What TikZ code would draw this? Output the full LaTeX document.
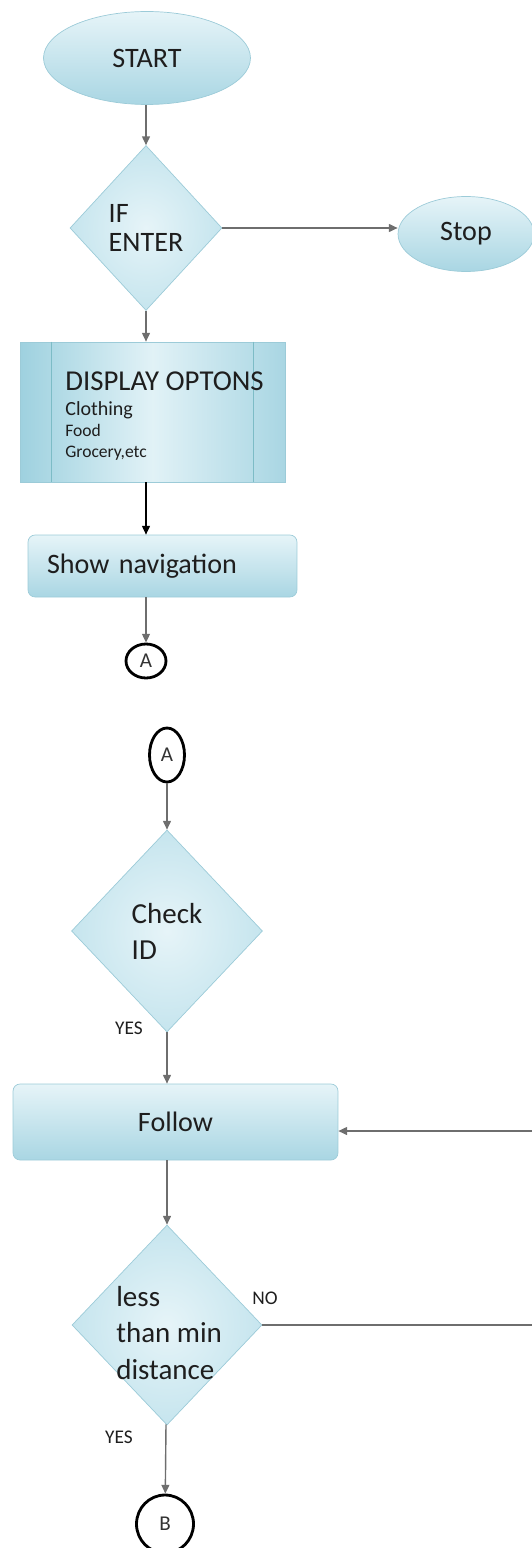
\documentclass[tikz,border=0pt]{standalone}
\usepackage{fontspec}
\setmainfont{Carlito}
\usetikzlibrary{shapes.geometric,arrows.meta,calc}
\definecolor{edgeblue}{HTML}{9CCBD8}
\definecolor{skylight}{HTML}{E6F4F8}
\definecolor{skydark}{HTML}{A9D6E3}
\definecolor{skymid}{HTML}{C6E5EE}
\definecolor{sideblue}{HTML}{9ED1DF}
\definecolor{arrowgray}{HTML}{6E6E6E}
\definecolor{inkgray}{HTML}{1E1E1E}

\begin{document}
\begin{tikzpicture}[x=0.02cm,y=-0.02cm,
  every node/.style={text=inkgray},
  terminal/.style={draw=edgeblue, ellipse, top color=skylight, bottom color=skydark,
    font=\fontsize{16}{19}\selectfont},
  decision/.style={draw=edgeblue, diamond, inner sep=0pt, inner color=skylight,
    outer color=skymid, align=left, font=\fontsize{16}{17}\selectfont},
  procbox/.style={draw=edgeblue, rectangle, left color=sideblue, right color=skydark,
    middle color=skylight!85!skymid},
  roundbox/.style={draw=edgeblue, rectangle, rounded corners=4pt, top color=skylight,
    bottom color=skydark, font=\fontsize{16}{19}\selectfont},
  onpage/.style={draw=black, line width=1.6pt, ellipse, inner sep=0pt, text=black!80,
    font=\fontsize{12}{14}\selectfont},
  answer/.style={inner sep=0pt, font=\fontsize{11}{13}\selectfont},
  flow/.style={draw=arrowgray, line width=0.8pt, -{Triangle[length=5pt,width=4.5pt]}}]
\useasboundingbox (0,0) rectangle (531,1548);

\node[terminal, minimum width=4.14cm, minimum height=1.86cm] (start) at (147,58) {START};
\node[decision, minimum width=3.04cm, minimum height=3.3cm] (ifenter) at (146,228) {IF\\ENTER};
\node[terminal, minimum width=2.72cm, minimum height=1.5cm] (stop) at (466,234) {Stop};
\node[procbox, minimum width=5.3cm, minimum height=2.8cm] (display) at (152.5,412) {};
\draw[edgeblue!80!teal] ($(display.north west)+(32,0)$) -- ($(display.south west)+(32,0)$);
\draw[edgeblue!80!teal] ($(display.north east)-(32,0)$) -- ($(display.south east)-(32,0)$);
\node[anchor=west, align=left, inner sep=0pt] (displaytext) at (65,416)
  {\fontsize{16.4}{18}\selectfont DISPLAY OPTONS\\[2pt]
   \fontsize{11.4}{12.5}\selectfont Clothing\\Food\\Grocery,etc};
\node[roundbox, minimum height=1.24cm, text width=4.62cm, inner xsep=0.38cm, align=left]
  (shownav) at (162.5,566) {Show navigation};
\node[onpage, minimum width=0.8cm, minimum height=0.68cm] (a1) at (146,661) {A};

\node[onpage, minimum width=0.7cm, minimum height=1.08cm] (a2) at (167,755) {A};
\node[decision, minimum width=3.82cm, minimum height=4.04cm,
  font=\fontsize{16.5}{20.5}\selectfont] (check) at (167,931) {Check\\ID};
\node[answer] (yes1) at (129,1028) {YES};
\node[roundbox, minimum width=6.5cm, minimum height=1.52cm] (follow) at (175.5,1122) {Follow};
\node[decision, minimum width=3.8cm, minimum height=4cm] (near) at (167,1325) {};
\node[anchor=west, align=left, inner sep=0pt, font=\fontsize{16.5}{20.7}\selectfont]
  (neartext) at (116,1333) {less\\than min\\distance};
\node[answer] (no) at (265,1298) {NO};
\node[answer] (yes2) at (119,1437) {YES};
\node[onpage, minimum width=1.14cm, minimum height=1.16cm] (b) at (165,1524) {B};
\coordinate (back) at (545,1131);

\draw[flow] (ifenter |- start.south) -- (ifenter.north);
\draw[flow] (ifenter.east) -- (ifenter.east -| stop.west);
\draw[flow] (ifenter.south) -- (ifenter.south |- display.north);
\draw[flow, draw=black] (display.south -| ifenter) -- (shownav.north -| ifenter);
\draw[flow] (shownav.south -| a1) -- (a1);
\draw[flow] (a2) -- (check);
\draw[flow] (check.south) -- (check.south |- follow.north);
\draw[flow] (follow.south -| near) -- (near);
\draw[flow] (near) -- (b);
\draw[flow] (near.east) -| (back) -- (back -| follow.east);
\end{tikzpicture}
\end{document}
